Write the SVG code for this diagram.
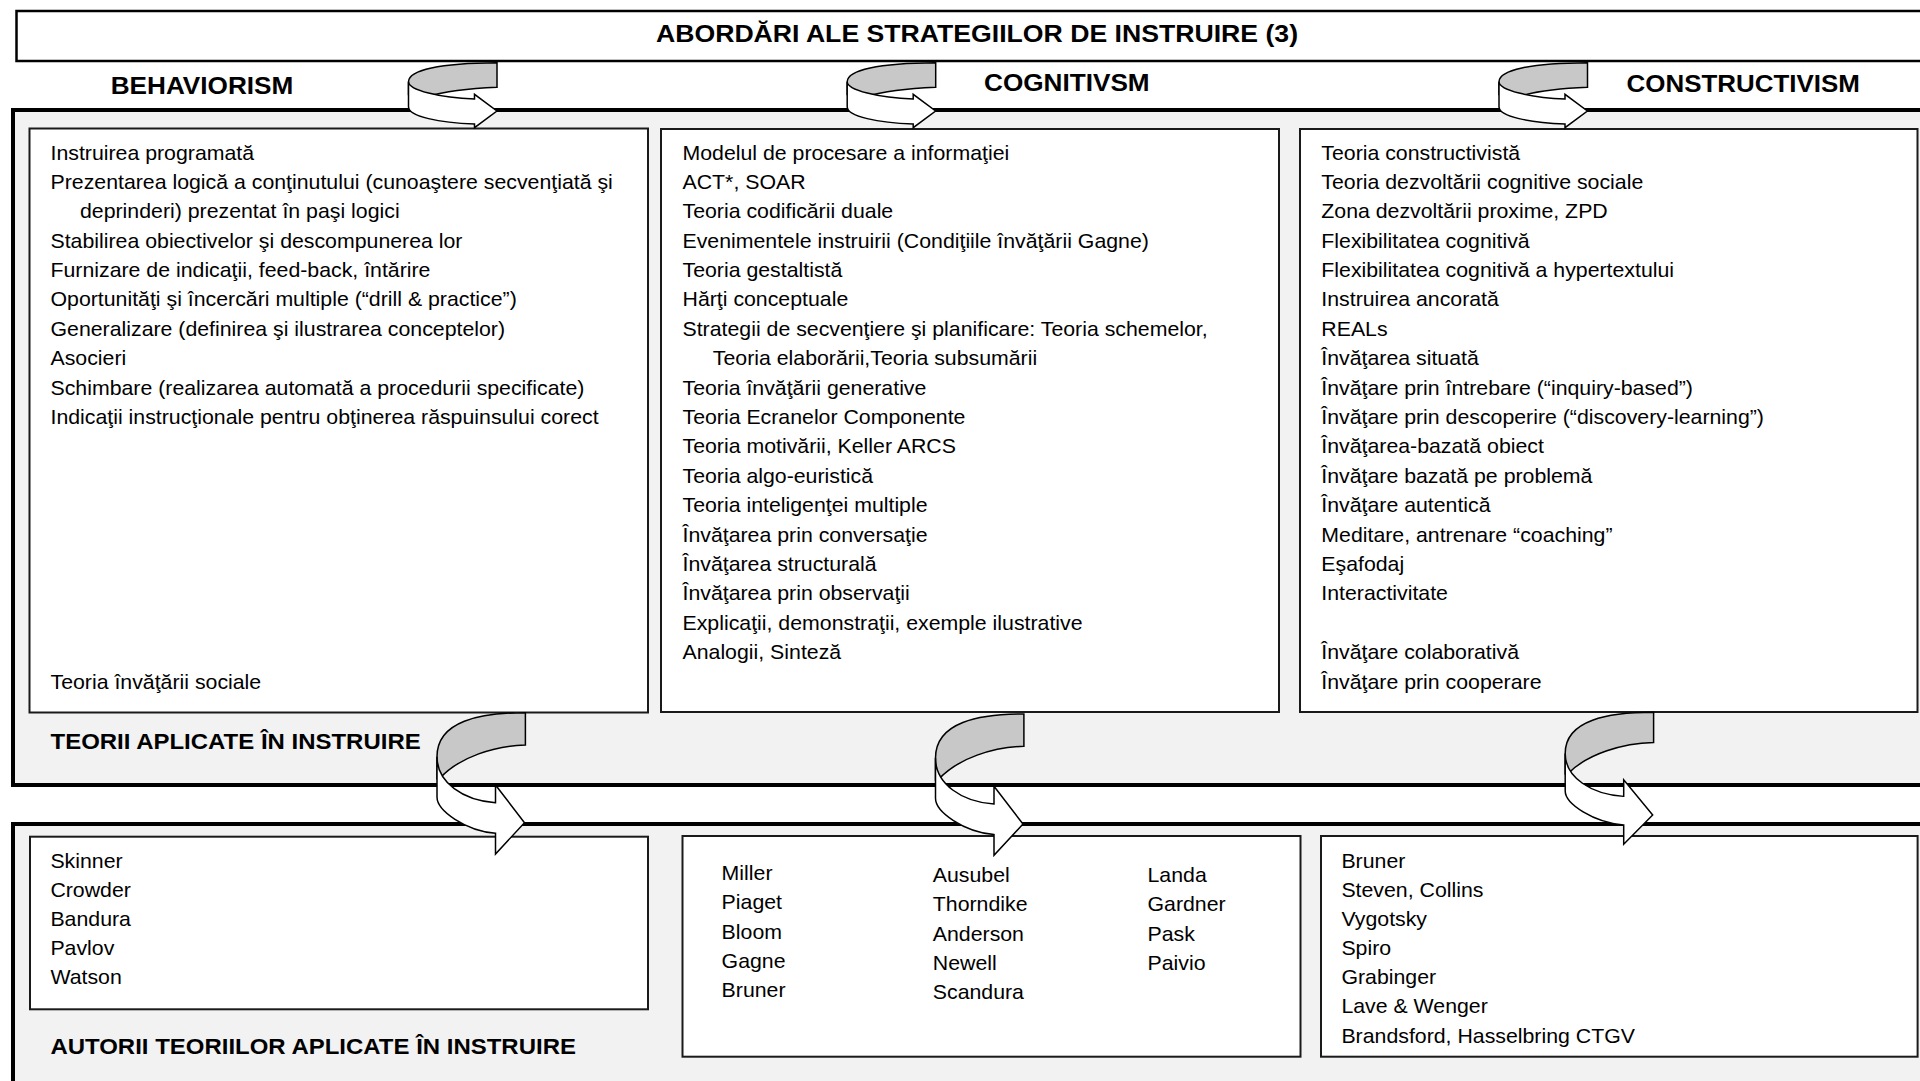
<svg xmlns="http://www.w3.org/2000/svg" xmlns:xlink="http://www.w3.org/1999/xlink" width="1920" height="1081" viewBox="0 0 1920 1081">
  <style>
    .panel { fill: #f2f2f2; stroke: #000; stroke-width: 4; }
    .frame { fill: #fff; stroke: #000; stroke-width: 2.5; }
    .box { fill: #fff; stroke: #1a1a1a; stroke-width: 2; }
    .txt { font-family: "Liberation Sans", Arial, sans-serif; fill: #000; }
    .body { font-size: 20px; }
    .ttl { font-size: 24px; font-weight: bold; }
    .head { font-size: 24px; font-weight: bold; }
    .lab { font-size: 22px; font-weight: bold; }
    .back { fill: #c8c8c8; stroke: #000; stroke-width: 1.5; stroke-linejoin: miter; }
    .front { fill: #fff; stroke: #000; stroke-width: 1.5; stroke-linejoin: miter; }
  </style>
  <defs>
    <!-- ribbon arrow between the header row and the theory boxes -->
    <g id="ribbonTop">
      <path class="back" d="M0,0 C-57,0.3 -88.5,7.3 -88.5,19 L-88.5,32 L-70,34 C-50,28 -25,25.6 0,24.6 Z"/>
      <path class="front" d="M-88.5,19 C-88.5,27.3 -57,35.3 -22.5,36.3 L-22.5,31.6 L-0.1,48.3 L-22.5,65 L-22.5,61.3 C-57,60 -88.5,54 -88.5,44 Z"/>
    </g>
    <!-- taller ribbon arrow between the theory boxes and the author boxes -->
    <g id="ribbonLow">
      <path class="back" d="M0,0 C-45,0 -88.4,8 -88.4,44 L-88.4,66 L-86,66 C-66,44 -30,33 0,32.3 Z"/>
      <path class="front" d="M-88.4,44 C-88.4,70 -62,88 -29.9,90 L-29.9,72.3 L-0.9,110 L-29.9,141.3 L-29.9,120.6 C-60,118 -88.4,98 -88.4,84.3 Z"/>
    </g>
  </defs>

  <rect width="1920" height="1081" fill="#fff"/>

  <!-- title bar -->
  <g id="title">
    <rect class="frame" x="16.5" y="11" width="1930" height="50"/>
    <text class="txt ttl" text-anchor="middle" transform="translate(977,42) scale(1.11,1)">ABORDĂRI ALE STRATEGIILOR DE INSTRUIRE (3)</text>
  </g>

  <!-- column headings -->
  <g id="head-behaviorism">
    <text class="txt head" transform="translate(110.7,93.5) scale(1.09,1)">BEHAVIORISM</text>
  </g>
  <g id="head-cognitivism">
    <text class="txt head" transform="translate(984,90.5) scale(1.09,1)">COGNITIVSM</text>
  </g>
  <g id="head-constructivism">
    <text class="txt head" transform="translate(1626.6,92) scale(1.08,1)">CONSTRUCTIVISM</text>
  </g>

  <!-- upper band: applied theories -->
  <g id="panel-theories">
    <rect class="panel" x="13" y="110" width="1940" height="675"/>
    <text class="txt lab" transform="translate(50.5,748.5) scale(1.09,1)">TEORII APLICATE ÎN INSTRUIRE</text>
  </g>

  <!-- lower band: authors -->
  <g id="panel-authors">
    <rect class="panel" x="13" y="824" width="1940" height="300"/>
    <text class="txt lab" transform="translate(50.4,1053.5) scale(1.09,1)">AUTORII TEORIILOR APLICATE ÎN INSTRUIRE</text>
  </g>

  <g id="theories-behaviorism">
    <rect class="box" x="29.5" y="128.5" width="618.5" height="584"/>
    <text class="txt body" transform="translate(50.5,159.5) scale(1.065,1)">
      <tspan x="0" y="0">Instruirea programată</tspan>
      <tspan x="0" y="29.4">Prezentarea logică a conţinutului (cunoaştere secvenţiată şi</tspan>
      <tspan x="27.7" y="58.8">deprinderi) prezentat în paşi logici</tspan>
      <tspan x="0" y="88.2">Stabilirea obiectivelor şi descompunerea lor</tspan>
      <tspan x="0" y="117.6">Furnizare de indicaţii, feed-back, întărire</tspan>
      <tspan x="0" y="147">Oportunităţi şi încercări multiple (“drill &amp; practice”)</tspan>
      <tspan x="0" y="176.4">Generalizare (definirea şi ilustrarea conceptelor)</tspan>
      <tspan x="0" y="205.8">Asocieri</tspan>
      <tspan x="0" y="235.2">Schimbare (realizarea automată a procedurii specificate)</tspan>
      <tspan x="0" y="264.6">Indicaţii instrucţionale pentru obţinerea răspuinsului corect</tspan>
      <tspan x="0" y="529.5">Teoria învăţării sociale</tspan>
    </text>
  </g>

  <g id="theories-cognitivism">
    <rect class="box" x="661" y="129" width="618" height="583"/>
    <text class="txt body" transform="translate(682.5,159.5) scale(1.065,1)">
      <tspan x="0" y="0">Modelul de procesare a informaţiei</tspan>
      <tspan x="0" y="29.4">ACT*, SOAR</tspan>
      <tspan x="0" y="58.8">Teoria codificării duale</tspan>
      <tspan x="0" y="88.2">Evenimentele instruirii (Condiţiile învăţării Gagne)</tspan>
      <tspan x="0" y="117.6">Teoria gestaltistă</tspan>
      <tspan x="0" y="147">Hărţi conceptuale</tspan>
      <tspan x="0" y="176.4">Strategii de secvenţiere şi planificare: Teoria schemelor,</tspan>
      <tspan x="28.5" y="205.8">Teoria elaborării,Teoria subsumării</tspan>
      <tspan x="0" y="235.2">Teoria învăţării generative</tspan>
      <tspan x="0" y="264.6">Teoria Ecranelor Componente</tspan>
      <tspan x="0" y="294">Teoria motivării, Keller ARCS</tspan>
      <tspan x="0" y="323.4">Teoria algo-euristică</tspan>
      <tspan x="0" y="352.8">Teoria inteligenţei multiple</tspan>
      <tspan x="0" y="382.2">Învăţarea prin conversaţie</tspan>
      <tspan x="0" y="411.6">Învăţarea structurală</tspan>
      <tspan x="0" y="441">Învăţarea prin observaţii</tspan>
      <tspan x="0" y="470.4">Explicaţii, demonstraţii, exemple ilustrative</tspan>
      <tspan x="0" y="499.8">Analogii, Sinteză</tspan>
    </text>
  </g>

  <g id="theories-constructivism">
    <rect class="box" x="1300" y="129" width="617.5" height="583"/>
    <text class="txt body" transform="translate(1321.3,159.5) scale(1.065,1)">
      <tspan x="0" y="0">Teoria constructivistă</tspan>
      <tspan x="0" y="29.4">Teoria dezvoltării cognitive sociale</tspan>
      <tspan x="0" y="58.8">Zona dezvoltării proxime, ZPD</tspan>
      <tspan x="0" y="88.2">Flexibilitatea cognitivă</tspan>
      <tspan x="0" y="117.6">Flexibilitatea cognitivă a hypertextului</tspan>
      <tspan x="0" y="147">Instruirea ancorată</tspan>
      <tspan x="0" y="176.4">REALs</tspan>
      <tspan x="0" y="205.8">Învăţarea situată</tspan>
      <tspan x="0" y="235.2">Învăţare prin întrebare (“inquiry-based”)</tspan>
      <tspan x="0" y="264.6">Învăţare prin descoperire (“discovery-learning”)</tspan>
      <tspan x="0" y="294">Învăţarea-bazată obiect</tspan>
      <tspan x="0" y="323.4">Învăţare bazată pe problemă</tspan>
      <tspan x="0" y="352.8">Învăţare autentică</tspan>
      <tspan x="0" y="382.2">Meditare, antrenare “coaching”</tspan>
      <tspan x="0" y="411.6">Eşafodaj</tspan>
      <tspan x="0" y="441">Interactivitate</tspan>
      <tspan x="0" y="499.8">Învăţare colaborativă</tspan>
      <tspan x="0" y="529.2">Învăţare prin cooperare</tspan>
    </text>
  </g>

  <g id="authors-behaviorism">
    <rect class="box" x="30" y="836.7" width="618" height="172.6"/>
    <text class="txt body" transform="translate(50.4,867.5) scale(1.065,1)">
      <tspan x="0" y="0">Skinner</tspan>
      <tspan x="0" y="29.1">Crowder</tspan>
      <tspan x="0" y="58.2">Bandura</tspan>
      <tspan x="0" y="87.3">Pavlov</tspan>
      <tspan x="0" y="116.4">Watson</tspan>
    </text>
  </g>

  <g id="authors-cognitivism">
    <rect class="box" x="682.5" y="836" width="618" height="220.7"/>
    <text class="txt body" transform="translate(721.6,880.2) scale(1.065,1)">
      <tspan x="0" y="0">Miller</tspan>
      <tspan x="0" y="29.3">Piaget</tspan>
      <tspan x="0" y="58.6">Bloom</tspan>
      <tspan x="0" y="87.9">Gagne</tspan>
      <tspan x="0" y="117.2">Bruner</tspan>
    </text>
    <text class="txt body" transform="translate(932.8,882.2) scale(1.065,1)">
      <tspan x="0" y="0">Ausubel</tspan>
      <tspan x="0" y="29.3">Thorndike</tspan>
      <tspan x="0" y="58.6">Anderson</tspan>
      <tspan x="0" y="87.9">Newell</tspan>
      <tspan x="0" y="117.2">Scandura</tspan>
    </text>
    <text class="txt body" transform="translate(1147.5,882.2) scale(1.065,1)">
      <tspan x="0" y="0">Landa</tspan>
      <tspan x="0" y="29.3">Gardner</tspan>
      <tspan x="0" y="58.6">Pask</tspan>
      <tspan x="0" y="87.9">Paivio</tspan>
    </text>
  </g>

  <g id="authors-constructivism">
    <rect class="box" x="1321" y="836" width="596.6" height="220.7"/>
    <text class="txt body" transform="translate(1341.4,867.5) scale(1.065,1)">
      <tspan x="0" y="0">Bruner</tspan>
      <tspan x="0" y="29.2">Steven, Collins</tspan>
      <tspan x="0" y="58.4">Vygotsky</tspan>
      <tspan x="0" y="87.6">Spiro</tspan>
      <tspan x="0" y="116.8">Grabinger</tspan>
      <tspan x="0" y="146">Lave &amp; Wenger</tspan>
      <tspan x="0" y="175.2">Brandsford, Hasselbring CTGV</tspan>
    </text>
  </g>

  <!-- curved ribbon arrows linking the rows -->
  <g id="connectors">
    <use xlink:href="#ribbonTop" transform="translate(497,62.7)"/>
    <use xlink:href="#ribbonTop" transform="translate(935.7,62.7)"/>
    <use xlink:href="#ribbonTop" transform="translate(1587.5,62.7)"/>
    <use xlink:href="#ribbonLow" transform="translate(525.4,712.7)"/>
    <use xlink:href="#ribbonLow" transform="translate(1023.9,714)"/>
    <use xlink:href="#ribbonLow" transform="translate(1653.6,712.3) scale(1,0.934)"/>
  </g>
</svg>
